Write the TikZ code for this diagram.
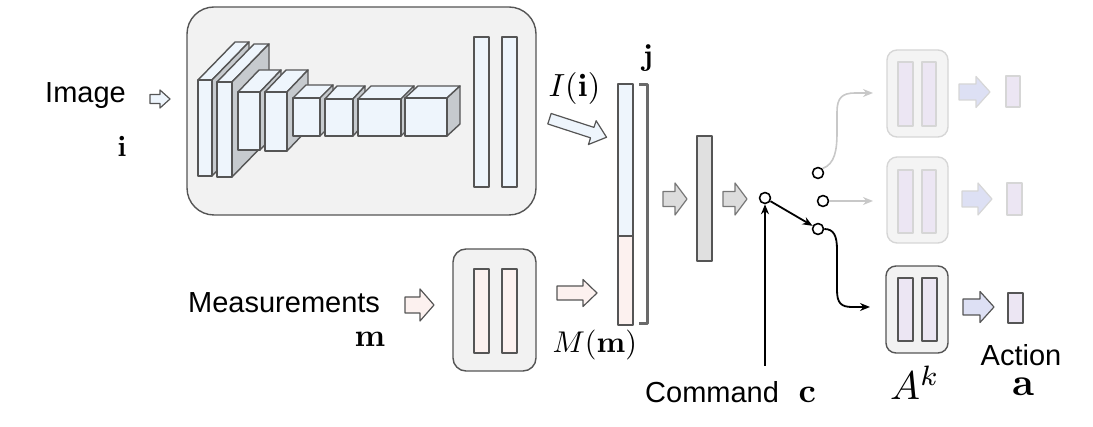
\documentclass[tikz,border=0pt]{standalone}
\usepackage[no-math]{fontspec}
\setmainfont{Liberation Sans}
\usetikzlibrary{arrows.meta}
\definecolor{boxfill}{HTML}{F2F2F2}
\definecolor{edgegray}{HTML}{555555}
\definecolor{lblue}{HTML}{EEF5FC}
\definecolor{lpink}{HTML}{FCF1EF}
\definecolor{sideg}{HTML}{C6CACE}
\definecolor{gbar}{HTML}{E0E0E0}
\definecolor{garrow}{HTML}{DCDCDC}
\definecolor{lav}{HTML}{ECE6F3}
\definecolor{lavarrow}{HTML}{DDE0F4}
\definecolor{faint}{HTML}{D6D6D6}
\definecolor{fainter}{HTML}{F4F4F4}
\definecolor{curvegray}{HTML}{C8C8C8}
\definecolor{brack}{HTML}{6A6A6A}

\newcommand\cnnblock[7]{%
  \filldraw[ln,fill=lblue] (#2,#3) -- ++(#6,-#7) -- ++(#4,0) -- ++(-#6,#7) -- cycle;
  \filldraw[ln,fill=sideg] ({#2+#4},#3) -- ++(#6,-#7) -- ++(0,#5) -- ++(-#6,#7) -- cycle;
  \node[barbox,fill=lblue,minimum width=#4pt,minimum height=#5pt] (#1) at (#2,#3) {};
}
\newcommand\fatarrow[8]{%
  \begin{scope}[shift={(#1,#2)},rotate=#7]
    \draw[#8] ({-#3/2},{-#4/2}) -- ({#3/2-#6},{-#4/2}) -- ({#3/2-#6},{-#5/2}) -- ({#3/2},0)
      -- ({#3/2-#6},{#5/2}) -- ({#3/2-#6},{#4/2}) -- ({-#3/2},{#4/2}) -- cycle;
  \end{scope}}

\begin{document}
\begin{tikzpicture}[x=1pt,y=-1pt,line join=round,
  ln/.style={draw=edgegray,line width=1.4pt},
  bigbox/.style={ln,fill=boxfill,rounded corners=27pt,inner sep=0,outer sep=0,anchor=north west},
  modbox/.style={ln,fill=boxfill,rounded corners=10pt,inner sep=0,outer sep=0,anchor=north west},
  fadebox/.style={draw=faint,line width=1.4pt,fill=fainter,rounded corners=10pt,inner sep=0,outer sep=0,anchor=north west},
  barbox/.style={ln,inner sep=0,outer sep=0,anchor=north west},
  fadebar/.style={draw=faint,line width=1.4pt,fill=lav,inner sep=0,outer sep=0,anchor=north west},
  swc/.style={circle,draw=black,line width=1.6pt,fill=white,minimum size=11pt,inner sep=0},
  txt/.style={inner sep=0,font=\fontsize{29}{33}\selectfont},
  mth/.style={inner sep=0,font=\fontsize{10}{12}\selectfont,scale=#1},
  blackarr/.style={line width=1.8pt,-{Stealth[length=10pt,width=8pt]}},
  grayarr/.style={line width=1.6pt,draw=curvegray,-{Stealth[length=10pt,width=8pt]}},
  bluearr/.style={draw=edgegray,line width=1.2pt,fill=lblue},
  pinkarr/.style={draw=edgegray,line width=1.2pt,fill=lpink},
  greyfat/.style={draw=edgegray!80,line width=1.2pt,fill=garrow},
  lavfat/.style={draw=edgegray,line width=1.2pt,fill=lavarrow},
  lavfade/.style={draw=faint,line width=1.2pt,fill=lavarrow},
]
\useasboundingbox (0,0) rectangle (1093,427);

% ---------- image encoder ----------
\node[bigbox,minimum width=349pt,minimum height=208pt] (imgbox) at (187,7) {};
\cnnblock{b1}{198}{80}{14}{96}{37}{38}
\cnnblock{b2}{217}{82}{15}{95}{37}{38}
\cnnblock{b3}{238}{92}{22}{58}{21}{22}
\cnnblock{b4}{265}{92}{22}{59}{21}{22}
\cnnblock{b5}{293}{98}{27}{38}{13}{13}
\cnnblock{b6}{325}{99}{28}{37}{12}{13}
\cnnblock{b7}{358}{99}{43}{37}{13}{13}
\cnnblock{b8}{405}{98}{42}{38}{13}{12}
\node[barbox,fill=lblue,minimum width=15pt,minimum height=150pt] (fc1) at (474,37) {};
\node[barbox,fill=lblue,minimum width=15pt,minimum height=150pt] (fc2) at (502,37) {};

\node[txt,anchor=base west] (imglbl) at (45,103) {Image};
\node[mth=2.9,anchor=base] (ivar) at (122,157) {$\mathbf{i}$};
\fatarrow{160}{99}{20}{9}{18}{10}{0}{bluearr}

% ---------- measurement encoder ----------
\node[modbox,rounded corners=13pt,minimum width=83pt,minimum height=122pt] (measbox) at (453,249) {};
\node[barbox,fill=lpink,minimum width=15pt,minimum height=84pt] (mb1) at (474,269) {};
\node[barbox,fill=lpink,minimum width=15pt,minimum height=84pt] (mb2) at (502,269) {};
\node[txt,anchor=base west] (measlbl) at (188,313) {Measurements};
\node[mth=3.2,anchor=base east] (mvar) at (386,347) {$\mathbf{m}$};
\fatarrow{419.5}{305}{29}{16}{32}{14}{0}{pinkarr}

% ---------- join ----------
\fatarrow{578}{128}{60}{11}{25}{15}{-18}{bluearr}
\fatarrow{577}{293}{40}{14}{27}{14}{0}{pinkarr}
\node[mth=3.2,anchor=base west] (Ilbl) at (548,97) {$I(\mathbf{i})$};
\node[mth=3.0,anchor=base west] (Mlbl) at (552,353) {$M(\mathbf{m})$};
\node[barbox,fill=lblue,minimum width=15pt,minimum height=152pt] (jtop) at (618,84) {};
\node[barbox,fill=lpink,minimum width=15pt,minimum height=89pt] (jbot) at (618,236) {};
\draw[brack,line width=3pt] (639,85) -- (647,85) -- (647,324) -- (639,324);
\node[mth=3.0,anchor=base] (jlbl) at (648,66) {$\mathbf{j}$};

\fatarrow{675}{199}{24}{15}{32}{12}{0}{greyfat}
\node[barbox,fill=gbar,minimum width=15pt,minimum height=125pt] (gbar) at (697,136) {};
\fatarrow{735}{199}{24}{15}{32}{12}{0}{greyfat}

% ---------- switch ----------
\node[swc] (sw) at (765,198) {};
\node[swc] (c1) at (818,173) {};
\node[swc] (c2) at (823,201) {};
\node[swc] (c3) at (818,229) {};
\coordinate (cmdfoot) at (765,366);
\draw[blackarr] (cmdfoot) -- (sw.south);
\draw[blackarr] (sw) -- (c3);
\node[txt,anchor=base west] (cmdlbl) at (645,403) {Command};
\node[mth=3.4,anchor=base west] (cvar) at (798,403) {$\mathbf{c}$};

% ---------- branches ----------
\node[fadebox,minimum width=61pt,minimum height=87pt] (A1) at (887,50) {};
\node[fadebar,minimum width=15pt,minimum height=64pt] (A1a) at (898,62) {};
\node[fadebar,minimum width=14pt,minimum height=64pt] (A1b) at (922,62) {};
\fatarrow{974.5}{92}{31}{16}{31}{14}{0}{lavfade}
\node[fadebar,minimum width=14pt,minimum height=31pt] (o1) at (1006,76) {};

\node[fadebox,minimum width=61pt,minimum height=86pt] (A2) at (887,157) {};
\node[fadebar,minimum width=15pt,minimum height=63pt] (A2a) at (898,170) {};
\node[fadebar,minimum width=14pt,minimum height=63pt] (A2b) at (922,170) {};
\fatarrow{977}{199}{30}{16}{32}{14}{0}{lavfade}
\node[fadebar,minimum width=15pt,minimum height=32pt] (o2) at (1007,183) {};

\node[modbox,minimum width=62pt,minimum height=87pt] (A3) at (886,266) {};
\node[barbox,fill=lav,minimum width=15pt,minimum height=63pt] (A3a) at (898,278) {};
\node[barbox,fill=lav,minimum width=15pt,minimum height=63pt] (A3b) at (922,278) {};
\fatarrow{978.5}{307}{31}{16}{31}{14}{0}{lavfat}
\node[barbox,fill=lav,minimum width=15pt,minimum height=30pt] (o3) at (1008,293) {};

\coordinate (in1) at (873,93);
\coordinate (in2) at (873,201);
\coordinate (in3) at (870,307);
\draw[grayarr] (c1.north east) .. controls (835,164) and (837,150) .. (837,132) -- (837,112)
  .. controls (837,98) and (842,93) .. (855,93) -- (in1);
\draw[grayarr] (c2.east) -- (in2);
\draw[blackarr] (c3.east) .. controls (834,229) and (837,236) .. (837,250) -- (837,290)
  .. controls (837,303) and (841,307) .. (852,307) -- (in3);

\node[mth=4.0,anchor=base] (Aklbl) at (915,400) {$A^k$};
\node[txt,anchor=base] (actlbl) at (1021,366) {Action};
\node[mth=3.9,anchor=base] (avar) at (1023,396) {$\mathbf{a}$};
\end{tikzpicture}
\end{document}
